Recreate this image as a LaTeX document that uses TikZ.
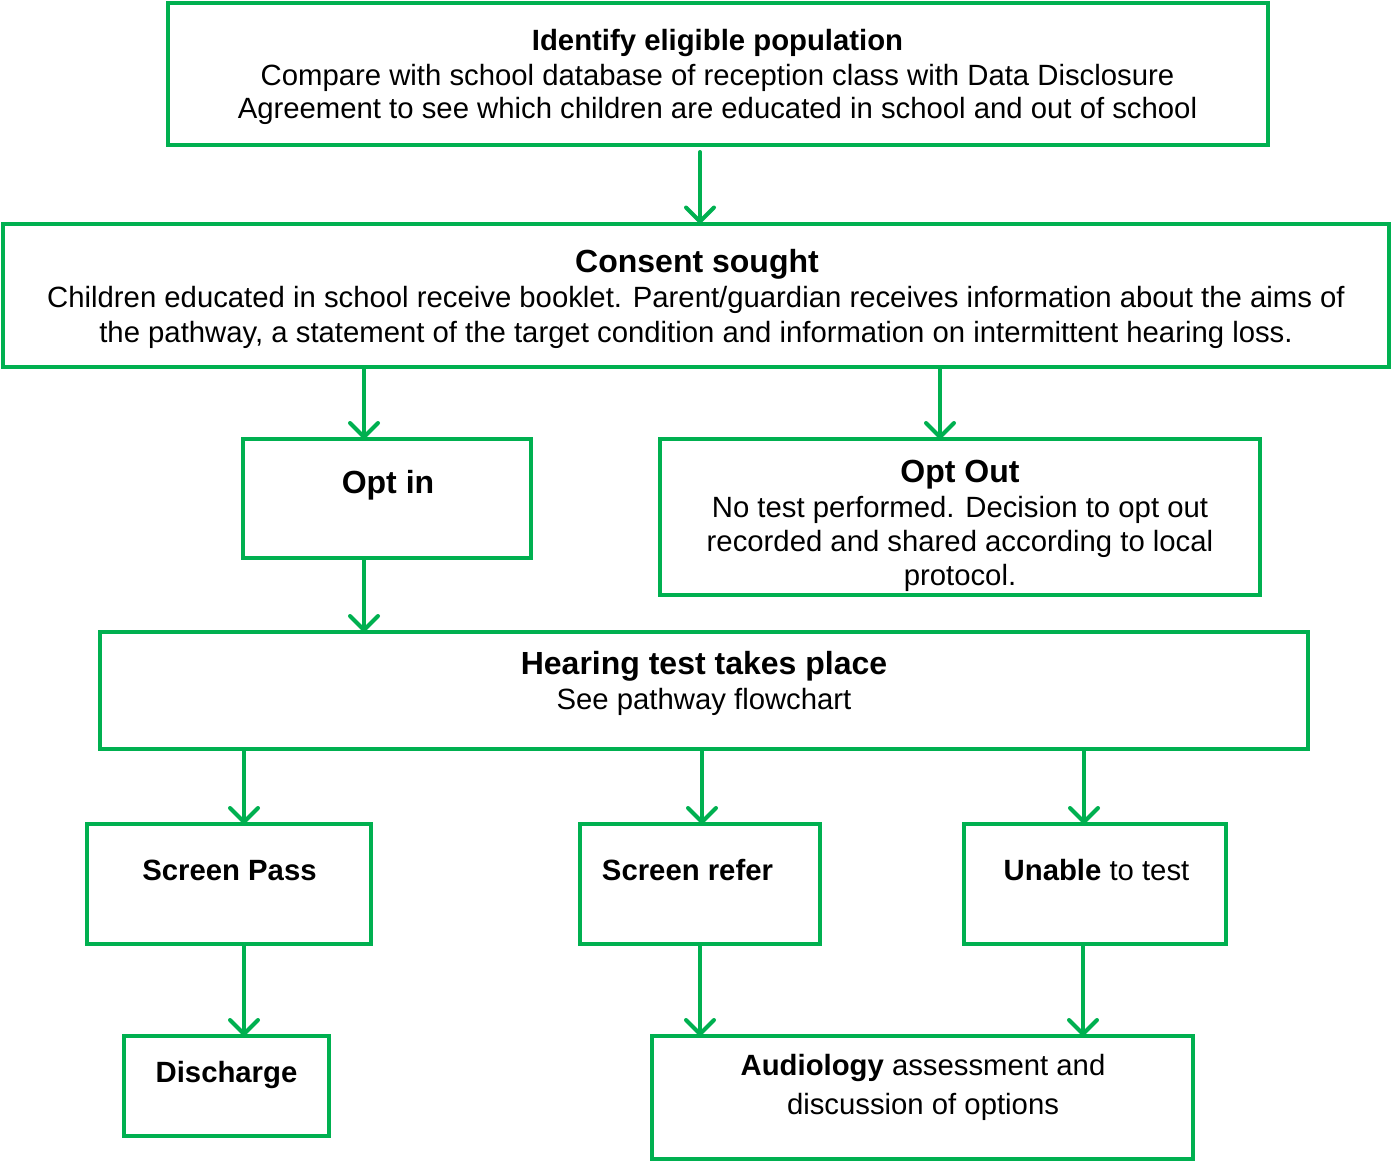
\documentclass[tikz,border=0pt]{standalone}
\usepackage{fontspec}
\setmainfont{Liberation Sans}
\usetikzlibrary{arrows.meta}
\definecolor{grn}{HTML}{00B050}
\begin{document}
\begin{tikzpicture}[x=1pt,y=-1pt,
  box/.style={draw=grn, line width=4pt, rectangle, inner sep=0pt, outer sep=0pt, anchor=north west},
  arr/.style={draw=grn, line width=4pt, line cap=round, -{Straight Barb[length=14pt,width=28pt,line cap=round,line join=round]}},
  txt/.style={inner sep=0pt, align=center, font=\fontsize{29.3}{34}\selectfont, anchor=base},
  ttl/.style={inner sep=0pt, align=center, font=\fontsize{32}{35}\selectfont\bfseries, anchor=base}
]
\useasboundingbox (0,0) rectangle (1391,1162);

% boxes
\node[box, minimum width=1100.5pt, minimum height=142pt] (top) at (167.5,2.5) {};
\node[box, minimum width=1386pt, minimum height=143.5pt] (consent) at (3,223.5) {};
\node[box, minimum width=288pt, minimum height=119pt] (optin) at (243,439) {};
\node[box, minimum width=600pt, minimum height=156pt] (optout) at (660,439) {};
\node[box, minimum width=1208pt, minimum height=117pt] (hearing) at (100,632) {};
\node[box, minimum width=284pt, minimum height=120pt] (pass) at (87,824) {};
\node[box, minimum width=240pt, minimum height=120pt] (refer) at (580,824) {};
\node[box, minimum width=262pt, minimum height=120pt] (unable) at (964,824) {};
\node[box, minimum width=205pt, minimum height=100pt] (discharge) at (124,1036) {};
\node[box, minimum width=541pt, minimum height=123pt] (audio) at (652,1036) {};

% texts (multi-line nodes: base = baseline of last line)
\node[txt, font=\fontsize{29.3}{34}\selectfont\bfseries] (topT) at (717.5,50) {Identify eligible population};
\node[txt] (topB) at (717.5,118) {Compare with school database of reception class with Data Disclosure\\[-1pt]Agreement to see which children are educated in school and out of school};
\node[ttl] (consentT) at (697,272.5) {Consent sought};
\node[txt] (consentB) at (696,342) {Children educated in school receive booklet. Parent/guardian receives information about the aims of\\[1pt]the pathway, a statement of the target condition and information on intermittent hearing loss.};
\node[ttl] (optinT) at (388,493.5) {Opt in};
\node[ttl] (optoutT) at (960,482.5) {Opt Out};
\node[txt] (optoutB) at (960,585) {No test performed. Decision to opt out\\recorded and shared according to local\\protocol.};
\node[ttl] (hearingT) at (704,674.5) {Hearing test takes place};
\node[txt] (hearingB) at (704,709) {See pathway flowchart};
\node[txt, font=\fontsize{29.3}{34}\selectfont\bfseries] (passT) at (229.5,880.5) {Screen Pass};
\node[txt, font=\fontsize{29.3}{34}\selectfont\bfseries] (referT) at (687.5,880.5) {Screen refer};
\node[txt] (unableT) at (1096.5,880.5) {\textbf{Unable} to test};
\node[txt, font=\fontsize{29.3}{34}\selectfont\bfseries] (dischargeT) at (226.5,1082.5) {Discharge};
\node[txt] (audioT) at (923,1114.5) {\textbf{Audiology} assessment and\\[5pt]discussion of options};

% arrow columns
\coordinate (c700) at (700,0);
\coordinate (c364) at (364,0);
\coordinate (c940) at (940,0);
\coordinate (c244) at (244,0);
\coordinate (c702) at (702,0);
\coordinate (c1084) at (1084,0);
\coordinate (c1083) at (1083,0);

% connectors
\draw[arr, shorten <=7.5pt] (top.south -| c700) -- (consent.north -| c700);
\draw[arr] (consent.south -| c364) -- (optin.north -| c364);
\draw[arr] (consent.south -| c940) -- (optout.north -| c940);
\draw[arr] (optin.south -| c364) -- (hearing.north -| c364);
\draw[arr] (hearing.south -| c244) -- (pass.north -| c244);
\draw[arr] (hearing.south -| c702) -- (refer.north -| c702);
\draw[arr] (hearing.south -| c1084) -- (unable.north -| c1084);
\draw[arr] (pass.south -| c244) -- (discharge.north -| c244);
\draw[arr] (refer.south -| c700) -- (audio.north -| c700);
\draw[arr] (unable.south -| c1083) -- (audio.north -| c1083);
\end{tikzpicture}
\end{document}
